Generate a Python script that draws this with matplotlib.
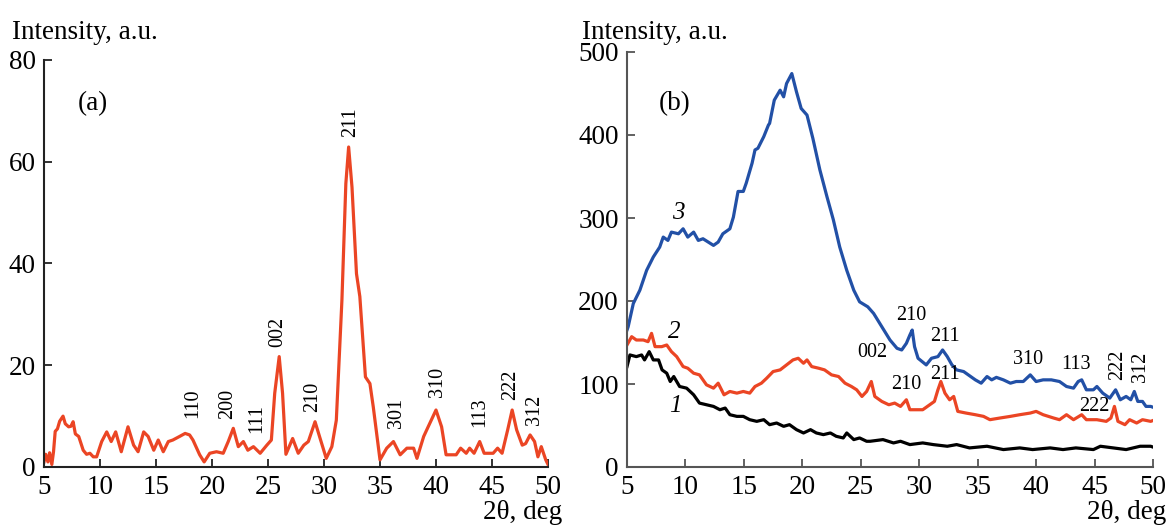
import numpy as np
import matplotlib
matplotlib.use('Agg')
import matplotlib.pyplot as plt

plt.rcParams['font.family'] = ['Liberation Serif', 'DejaVu Serif']

# panel (a): XRD pattern, single curve
a_pts = [(5.0, 1.0), (5.15, 2.5), (5.35, 1.0), (5.5, 2.8), (5.7, 0.5), (5.85, 3.0),
         (6.0, 7.0), (6.2, 7.5), (6.4, 9.0), (6.7, 10.0), (6.9, 8.5), (7.2, 7.9),
         (7.4, 8.0), (7.6, 8.9), (7.8, 6.5), (8.1, 6.0), (8.5, 3.3), (8.8, 2.5),
         (9.1, 2.7), (9.4, 2.0), (9.7, 2.0), (10.15, 5.0), (10.6, 6.9), (11.0, 5.0),
         (11.4, 6.9), (11.9, 3.0), (12.5, 7.9), (13.0, 4.3), (13.4, 3.0), (13.9, 6.9),
         (14.3, 6.0), (14.8, 3.3), (15.2, 5.3), (15.65, 3.0), (16.1, 5.0), (16.5, 5.3),
         (17.1, 6.0), (17.6, 6.6), (18.0, 6.3), (18.3, 5.3), (18.9, 2.4), (19.3, 1.0),
         (19.8, 2.7), (20.4, 3.0), (21.0, 2.7), (21.45, 5.0), (21.9, 7.6), (22.35, 4.0),
         (22.8, 5.0), (23.2, 3.3), (23.7, 4.0), (24.3, 2.7), (24.9, 4.3), (25.3, 5.3),
         (25.6, 14.5), (26.0, 21.7), (26.3, 14.5), (26.6, 2.5), (27.2, 5.6), (27.7, 2.7),
         (28.2, 4.3), (28.6, 5.0), (29.2, 8.9), (29.6, 6.0), (30.2, 1.7), (30.7, 4.0),
         (31.1, 9.2), (31.6, 32.8), (31.95, 55.7), (32.2, 62.9), (32.5, 55.0), (32.9, 38.0),
         (33.2, 33.5), (33.7, 17.7), (34.1, 16.4), (34.4, 11.8), (35.0, 1.4), (35.6, 3.7),
         (36.2, 5.0), (36.8, 2.4), (37.4, 3.7), (38.0, 3.7), (38.3, 1.7), (38.9, 6.0),
         (39.3, 7.9), (40.0, 11.2), (40.5, 7.9), (40.9, 2.4), (41.8, 2.4), (42.2, 3.7),
         (42.7, 2.7), (43.0, 3.7), (43.4, 2.7), (43.9, 5.0), (44.3, 2.7), (45.1, 2.7),
         (45.5, 3.7), (45.9, 2.7), (46.4, 7.3), (46.8, 11.2), (47.2, 7.3), (47.7, 4.3),
         (48.0, 4.6), (48.4, 6.3), (48.8, 5.0), (49.1, 2.0), (49.4, 4.0), (49.8, 1.4),
         (50.0, 0.5)]
a_labels = ['110', '200', '111', '002', '210', '211', '301', '310', '113', '222', '312']
a_lab_x = [18.3, 21.4, 24.0, 25.9, 29.0, 32.4, 36.5, 40.1, 43.9, 46.7, 48.8]
a_lab_y = [9.6, 9.4, 6.7, 23.6, 10.9, 64.9, 7.6, 13.8, 7.9, 13.2, 8.3]

# panel (b): three samples
b3_pts = [(5.0, 165), (5.1, 169), (5.54, 197), (6.1, 213), (6.68, 237), (7.25, 253),
          (7.8, 265), (8.1, 277), (8.5, 273), (8.8, 283), (9.4, 281), (9.8, 287),
          (10.2, 277), (10.7, 283), (11.1, 273), (11.5, 275), (11.95, 271), (12.4, 267),
          (12.8, 271), (13.2, 281), (13.8, 287), (14.1, 301), (14.5, 332), (14.95, 332),
          (15.2, 342), (15.7, 366), (15.95, 382), (16.2, 384), (16.7, 398), (17.1, 412),
          (17.2, 414), (17.6, 442), (18.1, 454), (18.4, 446), (18.65, 462), (19.1, 474),
          (19.5, 452), (19.9, 432), (20.4, 424), (20.9, 396), (21.5, 358), (22.1, 326),
          (22.65, 298), (23.2, 265), (23.8, 237), (24.4, 213), (24.9, 199), (25.6, 193),
          (26.1, 185), (26.8, 169), (27.5, 153), (28.1, 143), (28.5, 141), (28.9, 149),
          (29.2, 159), (29.4, 165), (29.6, 145), (29.9, 131), (30.6, 123), (31.05, 131),
          (31.6, 133), (32.0, 141), (32.4, 133), (32.8, 123), (33.2, 117), (33.8, 115),
          (34.2, 111), (34.8, 105), (35.3, 101), (35.8, 109), (36.2, 105), (36.6, 108),
          (37.2, 105), (37.8, 101), (38.3, 103), (38.9, 103), (39.5, 111), (40.0, 103),
          (40.6, 105), (41.3, 105), (42.0, 103), (42.6, 97), (43.2, 95), (43.6, 103),
          (43.9, 105), (44.3, 93), (44.9, 93), (45.2, 97), (45.7, 89), (46.3, 83),
          (46.8, 93), (47.2, 81), (47.7, 85), (48.1, 81), (48.4, 91), (48.7, 79),
          (49.1, 79), (49.4, 73), (49.8, 73), (50.0, 72)]
b2_pts = [(5.0, 147), (5.4, 157), (5.8, 153), (6.4, 153), (6.8, 151), (7.1, 161),
          (7.4, 145), (7.97, 145), (8.4, 147), (8.8, 139), (9.25, 133), (9.8, 121),
          (10.2, 119), (10.7, 113), (11.2, 111), (11.8, 99), (12.4, 95), (12.8, 101),
          (13.3, 87), (13.8, 91), (14.4, 89), (14.95, 91), (15.5, 89), (15.95, 97),
          (16.5, 101), (16.95, 107), (17.5, 115), (18.1, 117), (18.65, 123), (19.2, 129),
          (19.65, 131), (20.1, 125), (20.4, 129), (20.8, 121), (21.4, 119), (21.9, 117),
          (22.5, 111), (23.1, 109), (23.65, 101), (24.2, 97), (24.65, 93), (25.1, 85),
          (25.5, 91), (25.9, 103), (26.2, 85), (26.8, 79), (27.4, 75), (27.9, 77),
          (28.4, 73), (28.9, 81), (29.2, 69), (29.8, 69), (30.3, 69), (30.9, 75),
          (31.3, 79), (31.6, 93), (31.85, 103), (32.2, 89), (32.6, 81), (32.95, 85),
          (33.3, 67), (34.0, 65), (34.8, 63), (35.5, 61), (36.05, 57), (36.9, 59),
          (37.8, 61), (38.6, 63), (39.5, 65), (40.0, 67), (40.6, 63), (41.5, 59),
          (42.0, 57), (42.6, 63), (43.2, 57), (43.9, 63), (44.3, 57), (45.2, 57),
          (46.0, 55), (46.4, 59), (46.7, 73), (47.0, 55), (47.6, 51), (48.0, 57),
          (48.6, 53), (49.1, 57), (49.8, 55), (50.0, 56)]
b1_pts = [(5.0, 121), (5.25, 135), (5.8, 133), (6.25, 135), (6.5, 129), (6.9, 139),
          (7.25, 129), (7.7, 129), (8.0, 117), (8.4, 113), (8.7, 103), (9.0, 109),
          (9.5, 97), (10.1, 95), (10.7, 87), (11.2, 77), (11.8, 75), (12.4, 73),
          (12.95, 69), (13.4, 71), (13.8, 63), (14.4, 61), (14.95, 61), (15.5, 57),
          (16.1, 55), (16.7, 57), (17.2, 51), (17.8, 53), (18.4, 49), (18.9, 51),
          (19.5, 45), (20.1, 41), (20.7, 45), (21.2, 41), (21.8, 39), (22.4, 41),
          (22.9, 37), (23.5, 35), (23.8, 41), (24.4, 33), (24.9, 35), (25.5, 31),
          (25.8, 31), (26.9, 33), (27.8, 29), (28.4, 31), (29.2, 27), (30.3, 29),
          (31.2, 27), (32.4, 25), (33.2, 27), (34.3, 23), (35.8, 25), (37.2, 21),
          (38.6, 23), (39.7, 21), (41.2, 23), (42.3, 21), (43.4, 23), (44.9, 21),
          (45.5, 25), (46.6, 23), (47.7, 21), (48.9, 25), (49.8, 25), (50.0, 24)]

b3_labels = ['210', '211', '310', '113']
b3_lab_x = [29.35, 32.2, 39.3, 43.4]
b3_lab_y = [183, 157, 129, 123]
b3_rot_labels = ['222', '312']
b3_rot_x = [47.0, 48.9]
b3_rot_y = [123, 121]
b2_labels = ['002', '210', '211', '222']
b2_lab_x = [26.0, 28.9, 32.2, 45.0]
b2_lab_y = [138, 99, 111, 73]
curve_nums = ['3', '2', '1']
curve_num_x = [9.4, 9.0, 9.1]
curve_num_y = [306, 163, 73]

red = '#EB4524'
blue = '#2250A6'
big = 19.5

fig = plt.figure(figsize=(11.67, 5.25), dpi=100)
ax1 = fig.add_axes([44/1167, 58/525, 504/1167, 407/525])
ax2 = fig.add_axes([627/1167, 58/525, 526/1167, 415/525])

ax1.plot(*np.array(a_pts).T, color=red, lw=2.3)
ax1.set_xlim(5, 50)
ax1.set_ylim(0, 80)
ax1.set_yticks([0, 20, 40, 60, 80])
for lab, x, y in zip(a_labels, a_lab_x, a_lab_y):
    ax1.text(x, y, lab, rotation=90, ha='center', va='bottom', fontsize=14.5)
ax1.text(9.4, 71.5, '(a)', ha='center', va='center', fontsize=big)

ax2.plot(*np.array(b1_pts).T, color='black', lw=2.3)
ax2.plot(*np.array(b2_pts).T, color=red, lw=2.3)
ax2.plot(*np.array(b3_pts).T, color=blue, lw=2.3)
ax2.set_xlim(5, 50)
ax2.set_ylim(0, 500)
ax2.set_yticks([0, 100, 200, 300, 400, 500])
for lab, x, y in zip(b3_labels, b3_lab_x, b3_lab_y):
    ax2.text(x, y, lab, ha='center', va='center', fontsize=14.5)
for lab, x, y in zip(b3_rot_labels, b3_rot_x, b3_rot_y):
    ax2.text(x, y, lab, rotation=90, ha='center', va='center', fontsize=14.5)
for lab, x, y in zip(b2_labels, b2_lab_x, b2_lab_y):
    ax2.text(x, y, lab, ha='center', va='center', fontsize=14.5)
for lab, x, y in zip(curve_nums, curve_num_x, curve_num_y):
    ax2.text(x, y, lab, ha='center', va='center', fontsize=18, style='italic')
ax2.text(9.1, 438, '(b)', ha='center', va='center', fontsize=big)

for ax, sc in [(ax1, '#222222'), (ax2, '#555555')]:
    ax.set_xticks([5, 10, 15, 20, 25, 30, 35, 40, 45, 50])
    ax.spines['top'].set_visible(False)
    ax.spines['right'].set_visible(False)
    ax.spines['left'].set_color(sc)
    ax.spines['bottom'].set_color(sc)
    ax.spines['left'].set_linewidth(1.5)
    ax.spines['bottom'].set_linewidth(1.5)
    ax.tick_params(direction='in', length=6, width=1.3, color=sc,
                   labelsize=big, pad=6)

fig.text(12/1167, 1 - 39/525, 'Intensity, a.u.', fontsize=big, va='baseline', ha='left')
fig.text(582/1167, 1 - 39/525, 'Intensity, a.u.', fontsize=big, va='baseline', ha='left')
fig.text(483/1167, 6/525, '2θ, deg', fontsize=big, va='baseline', ha='left')
fig.text(1087/1167, 6/525, '2θ, deg', fontsize=big, va='baseline', ha='left')

fig.savefig('out.png', dpi=100)
